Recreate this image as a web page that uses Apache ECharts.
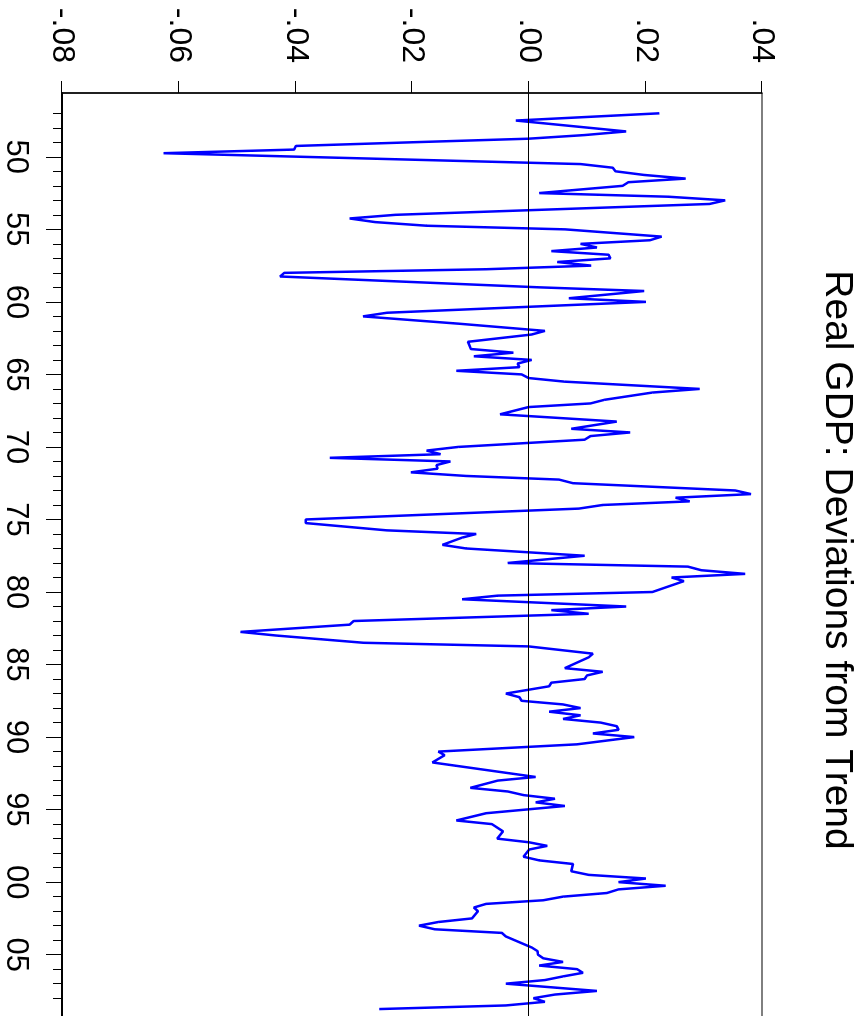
<!DOCTYPE html>
<html>
<head>
<meta charset="utf-8">
<script src="https://cdn.jsdelivr.net/npm/echarts@6/dist/echarts.min.js"></script>
<style>
html, body { margin: 0; padding: 0; width: 865px; height: 1016px; overflow: hidden; background: #fff; }
#chart { position: absolute; left: 0; top: 0; width: 1060px; height: 865px;
  transform-origin: 0 0; transform: translate(865px, 0) rotate(90deg); }
</style>
</head>
<body>
<div id="chart"></div>
<script>
// Quarterly dates (year + quarter fraction) at the polyline's vertices
const years = [
 1947.00,1947.50,1948.25,1948.50,1948.75,1949.00,1949.25,1949.50,1949.75,1950.50,1950.75,
 1951.00,1951.25,1951.50,1951.75,1952.00,1952.50,1952.75,1953.00,1953.25,1954.00,1954.25,
 1954.50,1954.75,1955.00,1955.50,1955.75,1956.00,1956.25,1956.50,1956.75,1957.00,1957.25,
 1957.50,1957.75,1958.00,1958.25,1959.00,1959.25,1959.75,1960.00,1960.75,1961.00,1961.50,
 1962.00,1962.25,1962.75,1963.25,1963.50,1963.75,1964.00,1964.25,1964.50,1964.75,1965.00,
 1965.25,1965.50,1966.00,1966.25,1966.75,1967.00,1967.25,1967.75,1968.25,1968.75,1969.00,
 1969.25,1969.50,1970.00,1970.25,1970.50,1970.75,1971.00,1971.25,1971.50,1971.75,1972.00,
 1972.25,1972.50,1973.00,1973.25,1973.50,1973.75,1974.00,1974.25,1975.00,1975.25,1975.75,
 1976.00,1976.25,1976.75,1977.00,1977.50,1978.00,1978.25,1978.50,1978.75,1979.00,1979.25,
 1980.00,1980.25,1980.50,1981.00,1981.25,1981.50,1982.00,1982.25,1982.75,1983.00,1983.50,
 1983.75,1984.25,1984.50,1985.25,1985.50,1985.75,1986.00,1986.25,1986.50,1987.00,1987.25,
 1987.50,1987.75,1988.00,1988.25,1988.50,1988.75,1989.00,1989.25,1989.50,1989.75,1990.00,
 1990.50,1991.00,1991.25,1991.75,1992.75,1993.00,1993.50,1993.75,1994.00,1994.25,1994.50,
 1994.75,1995.25,1995.75,1996.00,1996.50,1997.00,1997.25,1997.50,1997.75,1998.25,1998.50,
 1998.75,1999.25,1999.50,1999.75,2000.00,2000.25,2000.50,2000.75,2001.00,2001.25,2001.50,
 2001.75,2002.00,2002.50,2002.75,2003.00,2003.25,2003.50,2003.75,2004.50,2004.75,2005.00,
 2005.25,2005.50,2005.75,2006.00,2006.25,2006.50,2006.75,2007.00,2007.50,2007.75,2008.00,
 2008.25,2008.50,2008.75
];
// Deviation of real GDP from trend
const deviations = [
 0.0224,-0.0022,0.0167,0.0096,0.0000,-0.0202,-0.0399,-0.0402,-0.0626,0.0089,0.0144,
 0.0149,0.0198,0.0269,0.0171,0.0161,0.0018,0.0239,0.0337,0.0310,-0.0229,-0.0307,
 -0.0263,-0.0175,0.0062,0.0228,0.0208,0.0089,0.0117,0.0039,0.0137,0.0140,0.0049,
 0.0107,-0.0073,-0.0419,-0.0426,0.0020,0.0198,0.0069,0.0201,-0.0243,-0.0284,-0.0121,
 0.0028,0.0005,-0.0104,-0.0099,-0.0026,-0.0094,0.0005,-0.0019,-0.0016,-0.0124,-0.0012,
 0.0000,0.0062,0.0293,0.0212,0.0130,0.0106,0.0000,-0.0049,0.0151,0.0073,0.0174,
 0.0106,0.0096,-0.0121,-0.0175,-0.0151,-0.0341,-0.0134,-0.0158,-0.0156,-0.0202,-0.0107,
 0.0052,0.0076,0.0354,0.0381,0.0252,0.0276,0.0127,0.0086,-0.0382,-0.0382,-0.0243,
 -0.0090,-0.0114,-0.0148,-0.0107,0.0096,-0.0036,0.0273,0.0296,0.0371,0.0245,0.0266,
 0.0212,-0.0053,-0.0114,0.0167,0.0039,0.0103,-0.0300,-0.0307,-0.0494,-0.0433,-0.0283,
 0.0000,0.0110,0.0103,0.0062,0.0127,0.0100,0.0096,0.0039,0.0035,-0.0039,-0.0016,
 -0.0012,0.0059,0.0089,0.0035,0.0089,0.0059,0.0123,0.0151,0.0154,0.0110,0.0181,
 0.0083,-0.0155,-0.0144,-0.0165,0.0012,-0.0053,-0.0100,-0.0036,-0.0009,0.0045,0.0012,
 0.0062,-0.0073,-0.0124,-0.0063,-0.0044,-0.0054,0.0000,0.0032,0.0001,-0.0009,0.0018,
 0.0076,0.0073,0.0103,0.0201,0.0154,0.0235,0.0154,0.0134,0.0059,0.0025,-0.0073,
 -0.0094,-0.0087,-0.0097,-0.0155,-0.0188,-0.0161,-0.0046,-0.0039,0.0005,0.0015,0.0016,
 0.0025,0.0059,0.0018,0.0083,0.0093,0.0059,0.0028,-0.0039,0.0117,0.0045,0.0008,
 0.0028,-0.0039,-0.0256
];
const yearLabelValues = [1950,1955,1960,1965,1970,1975,1980,1985,1990,1995,2000,2005];
const yearTickValues = [];
for (let y = 1947; y <= 2008; y++) yearTickValues.push(y);
const valueTicks = [-0.08,-0.06,-0.04,-0.02,0,0.02,0.04];

const chart = echarts.init(document.getElementById('chart'), null, {renderer: 'canvas'});
const font = 'Liberation Sans, Arial, Helvetica, sans-serif';
const fmtVal = v => (v < -1e-9 ? '-' : '') + Math.abs(v).toFixed(2).replace(/^0/, '');
const fmtYear = v => String(Math.round(v) % 100).padStart(2, '0');

chart.setOption({
  animation: false,
  backgroundColor: '#fff',
  graphic: [{
    type: 'text', x: 560, y: 28,
    style: { text: 'Real GDP: Deviations from Trend', fontSize: 39, fontFamily: font,
      fill: '#000', align: 'center', verticalAlign: 'middle' }
  }],
  grid: { left: 93, top: 103, width: 940, height: 700, show: true,
    borderColor: '#000', borderWidth: 1, backgroundColor: 'transparent' },
  xAxis: [{
    type: 'value', min: 1945.6, max: 2010.4, position: 'bottom',
    axisLine: { show: true, onZero: false, lineStyle: { color: '#000', width: 2 } },
    axisTick: { show: true, customValues: yearTickValues, length: 9, lineStyle: { color: '#000', width: 1 } },
    axisLabel: { show: true, customValues: yearLabelValues, formatter: fmtYear,
      fontSize: 31, fontFamily: font, color: '#000', margin: 31 },
    splitLine: { show: false }
  }, {
    type: 'value', min: 1945.6, max: 2010.4, position: 'bottom',
    axisLine: { show: false, onZero: false },
    axisTick: { show: true, customValues: yearLabelValues, length: 16, lineStyle: { color: '#000', width: 1 } },
    axisLabel: { show: false },
    splitLine: { show: false }
  }],
  yAxis: {
    type: 'value', min: -0.08, max: 0.04, interval: valueTicks[1] - valueTicks[0],
    axisLine: { show: true, onZero: false, lineStyle: { color: '#000', width: 1.5 } },
    axisTick: { show: true, length: 12, lineStyle: { color: '#000', width: 1 } },
    axisLabel: { show: true, formatter: fmtVal, fontSize: 32, fontFamily: font, color: '#000', margin: 30 },
    splitLine: { show: false }
  },
  series: [{
    type: 'line',
    xAxisIndex: 0,
    data: years.map((y, i) => [y, deviations[i]]),
    showSymbol: false,
    lineStyle: { color: '#0000ff', width: 2.5 },
    markLine: {
      silent: true, symbol: 'none', label: { show: false },
      lineStyle: { color: '#000', width: 1, type: 'solid' },
      data: [{ yAxis: 0 }]
    }
  }]
});
</script>
</body>
</html>
